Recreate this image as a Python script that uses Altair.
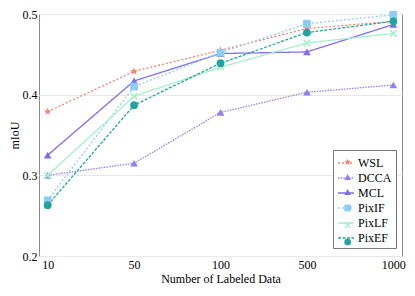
import altair as alt
import pandas as pd
import math

labels_x = ["10", "50", "100", "500", "1000"]
series = ["WSL", "DCCA", "MCL", "PixIF", "PixLF", "PixEF"]
wsl = [0.379, 0.429, 0.455, 0.482, 0.491]
dcca = [0.300, 0.315, 0.378, 0.403, 0.412]
mcl = [0.325, 0.417, 0.451, 0.453, 0.487]
pixif = [0.269, 0.410, 0.452, 0.488, 0.499]
pixlf = [0.300, 0.398, 0.434, 0.464, 0.476]
pixef = [0.263, 0.387, 0.439, 0.477, 0.491]
values = [wsl, dcca, mcl, pixif, pixlf, pixef]

colors = ["#F8806F", "#8F80F2", "#7F6CF0", "#8ECEF6", "#A6EFCB", "#1FA59D"]
dashes = [[2, 2], [1.5, 1.2], [1, 0], [2, 2], [1, 0], [3, 1.5]]
widths = [1.3, 1.3, 1.6, 1.1, 1.0, 1.3]

# star path
pts = []
for i in range(10):
    r = 1.0 if i % 2 == 0 else 0.42
    a = -math.pi / 2 + i * math.pi / 5
    pts.append(f"{r*math.cos(a):.3f},{r*math.sin(a):.3f}")
star = "M" + "L".join(pts) + "Z"
xpath = "M-1,-0.7L-0.7,-1L0,-0.3L0.7,-1L1,-0.7L0.3,0L1,0.7L0.7,1L0,0.3L-0.7,1L-1,0.7L-0.3,0Z"
shapes = [star, "triangle-up", "triangle-up", "square", xpath, "circle"]

series_m = [s + " " for s in series]  # distinct domain for the marker legend

rows = []
for s, sm, vals in zip(series, series_m, values):
    for xl, v in zip(labels_x, vals):
        rows.append({"n": xl, "mIoU": v, "series": s, "series2": sm})
df = pd.DataFrame(rows)

FONT = "Liberation Serif"
W, H = 363, 242
LX, LY = 294, 136

x = alt.X("n:O", sort=labels_x, title="Number of Labeled Data",
          scale=alt.Scale(type="point", padding=0.1),
          axis=alt.Axis(labelAngle=0, labelPadding=3, titlePadding=3, ticks=False, domain=False))
y = alt.Y("mIoU:Q", title="mIoU", scale=alt.Scale(domain=[0.2, 0.5], nice=False),
          axis=alt.Axis(values=[0.2, 0.3, 0.4, 0.5], format=".1f", ticks=False, domain=False,
                        labelPadding=2, titlePadding=1))

lines = alt.Chart(df).mark_line().encode(
    x=x, y=y,
    stroke=alt.Stroke("series:N", scale=alt.Scale(domain=series, range=colors),
                      legend=alt.Legend(title=None, orient="none", legendX=LX, legendY=LY,
                                        symbolType="stroke", symbolSize=256, symbolStrokeWidth=1.3,
                                        strokeColor="#7a7a7a", fillColor="white", padding=4,
                                        labelFont=FONT, labelFontSize=12, labelColor="#000",
                                        rowPadding=-1, labelOffset=3, zindex=1)),
    strokeDash=alt.StrokeDash("series:N", scale=alt.Scale(domain=series, range=dashes)),
    strokeWidth=alt.StrokeWidth("series:N", scale=alt.Scale(domain=series, range=widths), legend=None),
)

points = alt.Chart(df).mark_point(filled=True, opacity=1, size=60).encode(
    x=x, y=y,
    fill=alt.Fill("series2:N", scale=alt.Scale(domain=series_m, range=colors),
                  legend=alt.Legend(title=None, orient="none", legendX=LX + 4.65, legendY=LY + 2,
                                    symbolSize=45, symbolOpacity=1, padding=4,
                                    labelFont=FONT, labelFontSize=12, labelOpacity=0,
                                    labelExpr="' '",
                                    rowPadding=3, zindex=2)),
    shape=alt.Shape("series2:N", scale=alt.Scale(domain=series_m, range=shapes)),
)

chart = alt.layer(lines, points).properties(
    width=W, height=H,
    autosize=alt.AutoSizeParams(type="none"),
    padding={"left": 31, "top": 6, "right": 5, "bottom": 32},
).configure_view(stroke="#8c8c8c", strokeWidth=1).configure_axis(
    labelFont=FONT, titleFont=FONT, labelFontSize=12, titleFontSize=12,
    labelColor="#000", titleColor="#000", titleFontWeight="normal",
    gridColor="#e8e8e8", gridWidth=1,
)

chart.save("out.html", embed_options={"renderer": "svg", "actions": False})
